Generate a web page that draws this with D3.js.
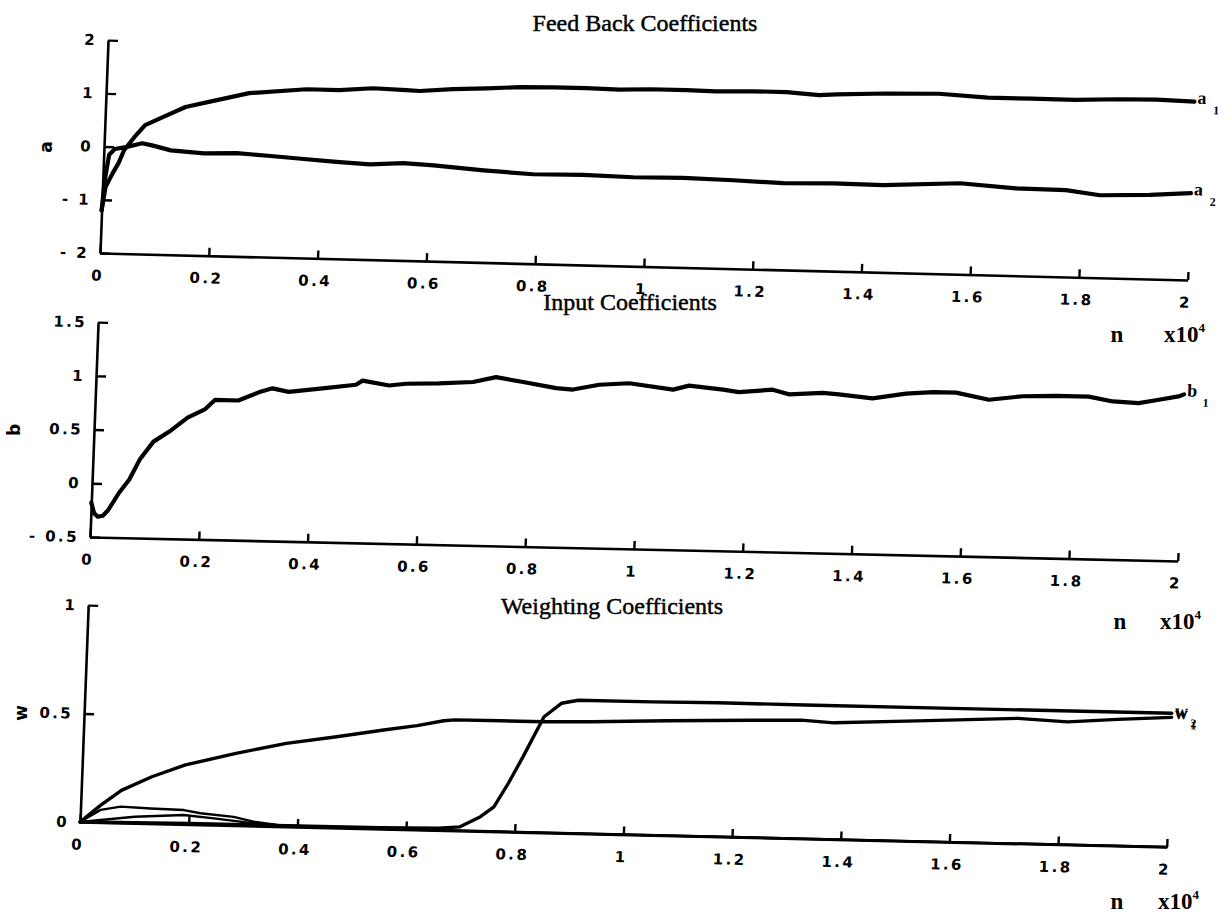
<!DOCTYPE html>
<html>
<head>
<meta charset="utf-8">
<script src="https://cdn.jsdelivr.net/npm/d3@7"></script>
<style>
  body { margin: 0; background: #fff; }
  svg { display: block; }
  .tick-label { font-family: "DejaVu Sans", sans-serif; font-weight: bold; font-size: 15px; letter-spacing: 2.4px; }
  .axis-name { font-family: "DejaVu Sans", sans-serif; font-weight: bold; font-size: 17px; }
  .title { font-family: "Liberation Serif", serif; font-size: 24px; stroke: #000; stroke-width: 0.45px; }
  .unit { font-family: "Liberation Serif", serif; font-size: 23px; font-weight: bold; }
  .series-label { font-family: "Liberation Serif", serif; font-weight: bold; }
</style>
</head>
<body>
<svg id="chart" width="1228" height="915"></svg>
<script>
// x axis (n, in units of 10^4)
const xTickValues = [0, 0.2, 0.4, 0.6, 0.8, 1, 1.2, 1.4, 1.6, 1.8, 2];
const xTickLabels = ["0", "0.2", "0.4", "0.6", "0.8", "1", "1.2", "1.4", "1.6", "1.8", "2"];

// y ticks for each panel
const aTickValues = [-2, -1, 0, 1, 2];
const aTickLabels = ["- 2", "- 1", "0", "1", "2"];
const bTickValues = [-0.5, 0, 0.5, 1, 1.5];
const bTickLabels = ["- 0.5", "0", "0.5", "1", "1.5"];
const wTickValues = [0, 0.5, 1];
const wTickLabels = ["0", "0.5", "1"];

// Feed back coefficients  [n, value]
const a1 = [
  [0, -1.2], [0.0055, -0.76], [0.018, -0.49], [0.028, -0.3], [0.037, -0.06], [0.055, 0.19],
  [0.074, 0.42], [0.11, 0.6], [0.147, 0.78], [0.202, 0.92], [0.263, 1.07], [0.368, 1.17],
  [0.428, 1.17], [0.49, 1.22], [0.551, 1.2], [0.576, 1.19], [0.637, 1.24], [0.699, 1.27],
  [0.76, 1.31], [0.82, 1.32], [0.882, 1.32], [0.943, 1.31], [1.0, 1.33], [1.066, 1.33],
  [1.12, 1.32], [1.189, 1.34], [1.25, 1.34], [1.31, 1.3], [1.342, 1.32], [1.434, 1.36],
  [1.53, 1.38], [1.62, 1.33], [1.7, 1.33], [1.78, 1.33], [1.86, 1.36], [1.93, 1.37], [2.0, 1.35]
];
const a2 = [
  [0, -1.2], [0.004, -0.6], [0.01, -0.15], [0.02, -0.04], [0.04, 0.0], [0.07, 0.08],
  [0.09, 0.04], [0.123, -0.04], [0.184, -0.08], [0.244, -0.06], [0.307, -0.1], [0.368, -0.14],
  [0.428, -0.18], [0.49, -0.21], [0.551, -0.17], [0.607, -0.2], [0.699, -0.27], [0.79, -0.32],
  [0.882, -0.31], [0.974, -0.33], [1.066, -0.32], [1.158, -0.34], [1.25, -0.37], [1.342, -0.35],
  [1.434, -0.36], [1.575, -0.29], [1.678, -0.36], [1.77, -0.37], [1.833, -0.45], [1.925, -0.42],
  [2.0, -0.37]
];

// Input coefficients
const b1 = [
  [0, -0.18], [0.006, -0.28], [0.013, -0.31], [0.022, -0.3], [0.031, -0.25], [0.05, -0.085],
  [0.068, 0.04], [0.086, 0.23], [0.11, 0.4], [0.142, 0.51], [0.171, 0.63], [0.202, 0.71],
  [0.22, 0.8], [0.263, 0.8], [0.3, 0.88], [0.325, 0.92], [0.355, 0.89], [0.417, 0.93],
  [0.478, 0.97], [0.49, 1.01], [0.539, 0.97], [0.57, 0.99], [0.63, 1.0], [0.693, 1.02],
  [0.735, 1.07], [0.785, 1.03], [0.846, 0.98], [0.877, 0.97], [0.925, 1.02], [0.98, 1.04],
  [1.061, 0.99], [1.09, 1.03], [1.153, 1.0], [1.182, 0.98], [1.244, 1.01], [1.274, 0.97],
  [1.336, 0.99], [1.366, 0.98], [1.428, 0.95], [1.489, 1.0], [1.539, 1.02], [1.581, 1.02],
  [1.642, 0.96], [1.704, 1.0], [1.765, 1.01], [1.825, 1.01], [1.87, 0.97], [1.917, 0.96],
  [1.949, 0.99], [1.99, 1.03], [2.0, 1.05]
];

// Weighting coefficients
const w1 = [
  [0, 0], [0.037, 0.08], [0.074, 0.15], [0.129, 0.216], [0.19, 0.274], [0.282, 0.333],
  [0.374, 0.384], [0.466, 0.42], [0.552, 0.456], [0.613, 0.48], [0.662, 0.505], [0.681, 0.51],
  [0.767, 0.511], [0.846, 0.511], [0.932, 0.516], [1.073, 0.529], [1.227, 0.54], [1.319, 0.546],
  [1.38, 0.537], [1.533, 0.555], [1.717, 0.577], [1.809, 0.566], [1.901, 0.583], [2.0, 0.598]
];
const w2 = [
  [0, 0], [0.2, 0.005], [0.4, 0.005], [0.552, 0.006], [0.66, 0.01], [0.699, 0.018],
  [0.736, 0.067], [0.76, 0.114], [0.785, 0.224], [0.81, 0.347], [0.828, 0.441], [0.846, 0.534],
  [0.877, 0.598], [0.908, 0.614], [1.043, 0.614], [1.165, 0.617], [1.325, 0.616], [1.595, 0.616],
  [2.0, 0.617]
];
const w3 = [
  [0, 0], [0.037, 0.058], [0.074, 0.075], [0.129, 0.07], [0.19, 0.066], [0.221, 0.053],
  [0.282, 0.04], [0.319, 0.02], [0.362, 0.007], [0.45, 0.002], [1.0, 0.0], [2.0, 0.0]
];
const w4 = [
  [0, 0], [0.1, 0.03], [0.19, 0.043], [0.25, 0.03], [0.32, 0.012], [0.4, 0.003], [0.6, 0], [2.0, 0]
];

// Panel layout (the scanned original is slightly rotated, so each panel is too)
const panels = [
  {
    ox: 100, oy: 253, w: 1088, h: 213, rot: 1.42, skew: 0.75,
    yDomain: [-2, 2], yTicks: aTickValues, yLabels: aTickLabels,
    series: [{ data: a1, width: 4.2 }, { data: a2, width: 4.2 }],
    labels: [{ text: "a", sub: "1", v: 1.35 }, { text: "a", sub: "2", v: -0.37 }],
    title: { text: "Feed Back Coefficients", x: 645, y: 31 },
    ylab: { text: "a", x: 46, y: 147 },
    unit: { nx: 1117, xx: 1164, y: 342 }
  },
  {
    ox: 90, oy: 537, w: 1088, h: 215, rot: 1.26, skew: 0.9,
    yDomain: [-0.5, 1.5], yTicks: bTickValues, yLabels: bTickLabels,
    series: [{ data: b1, width: 4.2 }],
    labels: [{ text: "b", sub: "1", v: 1.05 }],
    title: { text: "Input Coefficients", x: 630, y: 310 },
    ylab: { text: "b", x: 14, y: 430 },
    unit: { nx: 1120, xx: 1160, y: 629 }
  },
  {
    ox: 80, oy: 822, w: 1087, h: 217, rot: 1.32, skew: 0.85,
    yDomain: [0, 1], yTicks: wTickValues, yLabels: wTickLabels,
    series: [
      { data: w1, width: 3.4 }, { data: w2, width: 3.4 },
      { data: w3, width: 2.4 }, { data: w4, width: 2.4 }
    ],
    labels: [{ text: "w", sub: "1", v: 0.6 }, { text: "w", sub: "2", v: 0.61 }],
    title: { text: "Weighting Coefficients", x: 612, y: 614 },
    ylab: { text: "w", x: 21, y: 713 },
    unit: { nx: 1117, xx: 1158, y: 909 }
  }
];

const svg = d3.select("#chart");

panels.forEach((p) => {
  const x = d3.scaleLinear().domain([0, 2]).range([0, p.w]);
  const y = d3.scaleLinear().domain(p.yDomain).range([p.h, 0]);

  const g = svg
    .append("g")
    .attr("transform", `translate(${p.ox},${p.oy}) rotate(${p.rot}) skewX(${-p.skew}) translate(0,${-p.h})`);

  // Curves
  const line = d3.line().x((d) => x(d[0])).y((d) => y(d[1]));
  p.series.forEach((s) => {
    g.append("path")
      .datum(s.data)
      .attr("d", line)
      .attr("fill", "none")
      .attr("stroke", "#000")
      .attr("stroke-width", s.width)
      .attr("stroke-linejoin", "round")
      .attr("stroke-linecap", "round");
  });

  // Axes, ticks pointing inward
  const xAxis = d3.axisBottom(x)
    .tickValues(xTickValues)
    .tickSizeInner(-8)
    .tickSizeOuter(0)
    .tickPadding(17)
    .tickFormat((d, i) => xTickLabels[i]);

  const yAxis = d3.axisLeft(y)
    .tickValues(p.yTicks)
    .tickSizeInner(-10)
    .tickSizeOuter(0)
    .tickPadding(11)
    .tickFormat((d, i) => p.yLabels[i]);

  const gx = g.append("g").attr("transform", `translate(0,${p.h})`).call(xAxis);
  const gy = g.append("g").call(yAxis);

  [gx, gy].forEach((ax) => {
    ax.attr("font-size", null).attr("font-family", null);
    ax.select(".domain").attr("stroke-width", 2.6);
    ax.selectAll(".tick line").attr("stroke-width", 2.4);
    ax.selectAll(".tick text").attr("class", "tick-label").attr("fill", "#000");
  });
  gx.selectAll(".tick text").attr("dx", "-2");

  // Series labels at the right end
  p.labels.forEach((l) => {
    g.append("text")
      .attr("class", "series-label")
      .attr("x", x(2) + 3)
      .attr("y", y(l.v) + 2)
      .attr("font-size", 18)
      .text(l.text);
    g.append("text")
      .attr("class", "series-label")
      .attr("x", x(2) + 19)
      .attr("y", y(l.v) + 12)
      .attr("font-size", 12)
      .text(l.sub);
  });

  // Title, axis name and unit (upright)
  svg.append("text")
    .attr("class", "title")
    .attr("x", p.title.x)
    .attr("y", p.title.y)
    .attr("text-anchor", "middle")
    .text(p.title.text);

  svg.append("text")
    .attr("class", "axis-name")
    .attr("text-anchor", "middle")
    .attr("transform", `translate(${p.ylab.x},${p.ylab.y}) rotate(-90)`)
    .attr("dy", "0.35em")
    .text(p.ylab.text);

  svg.append("text")
    .attr("class", "unit")
    .attr("x", p.unit.nx)
    .attr("y", p.unit.y)
    .attr("text-anchor", "middle")
    .text("n");

  const unit = svg.append("text")
    .attr("class", "unit")
    .attr("x", p.unit.xx)
    .attr("y", p.unit.y);
  unit.append("tspan").text("x10");
  unit.append("tspan").attr("font-size", 13).attr("dy", -10).text("4");
});
</script>
</body>
</html>
